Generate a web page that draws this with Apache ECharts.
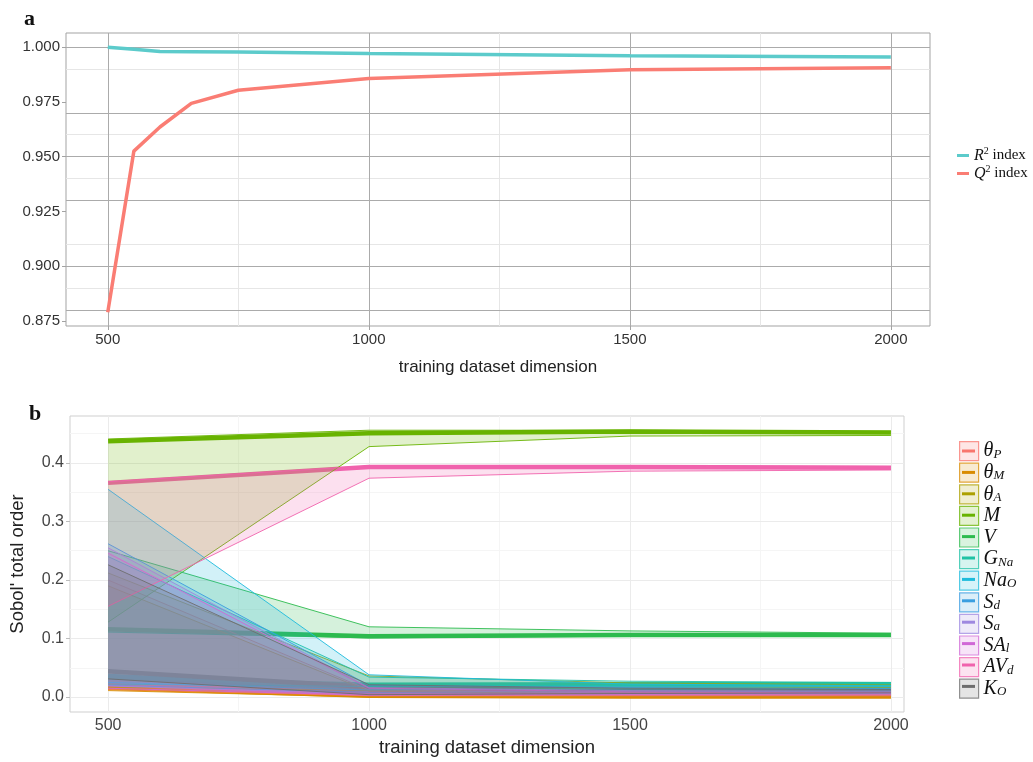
<!DOCTYPE html>
<html>
<head>
<meta charset="utf-8">
<script src="https://cdn.jsdelivr.net/npm/echarts@6/dist/echarts.min.js"></script>
<style>
  html, body { margin: 0; padding: 0; background: #ffffff; }
  #chart { width: 1033px; height: 762px; }
</style>
</head>
<body>
<div id="chart"></div>
<script>
// ---- Panel a: R² / Q² indices against training set size ----
const sizesA = [500, 550, 600, 660, 750, 1000, 1500, 2000];
const r2Index = [0.9999, 0.9990, 0.9980, 0.9979, 0.9977, 0.9970, 0.9960, 0.9955];
const q2Index = [0.8790, 0.9525, 0.9635, 0.9743, 0.9803, 0.9856, 0.9896, 0.9906];

// ---- Panel b: Sobol' total-order indices (mean line + min/max band) ----
const sizesB = [500, 1000, 1500, 2000];
const paramNames = ['θP', 'θM', 'θA', 'M', 'V', 'GNa', 'NaO', 'Sd', 'Sa', 'SAl', 'AVd', 'KO'];
const paramMain  = ['θ', 'θ', 'θ', 'M', 'V', 'G', 'Na', 'S', 'S', 'SA', 'AV', 'K'];
const paramSub   = ['P', 'M', 'A', '', '', 'Na', 'O', 'd', 'a', 'l', 'd', 'O'];
const paramColors = ['#F8766D', '#D98B00', '#ACA000', '#68B300', '#2DBB4E', '#1FC2A5',
                     '#1EBBDC', '#3A9EE0', '#9E88E0', '#D068D6', '#F063AD', '#6E6E6E'];

const sobolMean = [
  [0.018, 0.004, 0.003, 0.003],
  [0.016, 0.002, 0.001, 0.001],
  [0.024, 0.015, 0.017, 0.018],
  [0.437, 0.451, 0.454, 0.452],
  [0.116, 0.104, 0.106, 0.106],
  [0.032, 0.021, 0.022, 0.022],
  [0.036, 0.016, 0.016, 0.016],
  [0.028, 0.011, 0.011, 0.011],
  [0.026, 0.007, 0.007, 0.007],
  [0.022, 0.005, 0.005, 0.005],
  [0.366, 0.393, 0.393, 0.392],
  [0.044, 0.017, 0.011, 0.010]
];
const sobolLower = [
  [0.013, 0.002, 0.002, 0.002],
  [0.011, 0.000, 0.000, 0.000],
  [0.017, 0.011, 0.015, 0.016],
  [0.128, 0.428, 0.446, 0.447],
  [0.111, 0.101, 0.104, 0.104],
  [0.022, 0.018, 0.020, 0.020],
  [0.025, 0.012, 0.014, 0.014],
  [0.020, 0.008, 0.009, 0.010],
  [0.019, 0.005, 0.005, 0.006],
  [0.015, 0.003, 0.004, 0.004],
  [0.155, 0.374, 0.386, 0.388],
  [0.031, 0.004, 0.006, 0.007]
];
const sobolUpper = [
  [0.200, 0.012, 0.008, 0.007],
  [0.190, 0.010, 0.005, 0.004],
  [0.212, 0.036, 0.024, 0.021],
  [0.441, 0.456, 0.456, 0.454],
  [0.250, 0.120, 0.113, 0.109],
  [0.240, 0.034, 0.027, 0.025],
  [0.355, 0.038, 0.022, 0.019],
  [0.262, 0.020, 0.016, 0.014],
  [0.255, 0.016, 0.011, 0.010],
  [0.246, 0.015, 0.009, 0.008],
  [0.368, 0.395, 0.395, 0.394],
  [0.226, 0.021, 0.015, 0.013]
];

// ---- Tick positions ----
const xTicks  = [500, 1000, 1500, 2000];
const xMinor  = [750, 1250, 1750];
const yTicksA = [0.875, 0.900, 0.925, 0.950, 0.975, 1.000];
const yMinorA = [0.8875, 0.9125, 0.9375, 0.9625, 0.9875];
const yTicksB = [0.0, 0.1, 0.2, 0.3, 0.4];
const yMinorB = [0.05, 0.15, 0.25, 0.35, 0.45];

const sans = 'Liberation Sans';
const serif = 'Liberation Serif';
const teal = '#5CCBCB';
const salmon = '#FA7D74';

function pair(xs, ys) { return xs.map((x, i) => [x, ys[i]]); }
function rgba(hex, a) {
  const n = parseInt(hex.slice(1), 16);
  return 'rgba(' + ((n >> 16) & 255) + ',' + ((n >> 8) & 255) + ',' + (n & 255) + ',' + a + ')';
}

// panel grid lines, kept underneath the data
function gridLines(gi, xs, ys, color) {
  return {
    type: 'line', xAxisIndex: gi, yAxisIndex: gi, data: [], z: 1,
    silent: true, animation: false, legendHoverLink: false,
    markLine: {
      z: 1, silent: true, animation: false, symbol: ['none', 'none'],
      label: { show: false },
      emphasis: { disabled: true },
      lineStyle: { color: color, width: 1, type: 'solid' },
      data: xs.map(v => ({ xAxis: v })).concat(ys.map(v => ({ yAxis: v })))
    }
  };
}

const series = [
  gridLines(0, xMinor, yMinorA, '#E6E6E6'),
  gridLines(0, xTicks, yTicksA, '#ABABAB'),
  gridLines(1, xMinor, yMinorB, '#F5F5F5'),
  gridLines(1, xTicks, yTicksB, '#EBEBEB'),
  {
    name: 'R2', type: 'line', xAxisIndex: 0, yAxisIndex: 0, z: 3,
    data: pair(sizesA, r2Index), symbol: 'none',
    lineStyle: { color: teal, width: 3.5 }, itemStyle: { color: teal }
  },
  {
    name: 'Q2', type: 'line', xAxisIndex: 0, yAxisIndex: 0, z: 3,
    data: pair(sizesA, q2Index), symbol: 'none',
    lineStyle: { color: salmon, width: 3.5 }, itemStyle: { color: salmon }
  }
];

// mean lines first, bands drawn over them
paramNames.forEach((name, i) => {
  const c = paramColors[i];
  series.push({
    name: name, type: 'line', xAxisIndex: 1, yAxisIndex: 1, z: 3,
    data: pair(sizesB, sobolMean[i]), symbol: 'none',
    lineStyle: { color: c, width: 4.5 }, itemStyle: { color: c }
  });
});

// one band per parameter: a single row [x, lower, upper, x, lower, upper, ...]
paramNames.forEach((name, i) => {
  const c = paramColors[i];
  const row = [];
  sizesB.forEach((x, k) => row.push(x, sobolLower[i][k], sobolUpper[i][k]));
  series.push({
    name: name, type: 'custom', xAxisIndex: 1, yAxisIndex: 1, z: 4,
    silent: true, itemStyle: { color: c },
    data: [row],
    renderItem: function (params, api) {
      const up = [], lo = [];
      for (let k = 0; k < sizesB.length; k++) {
        const x = api.value(3 * k);
        lo.push(api.coord([x, api.value(3 * k + 1)]));
        up.push(api.coord([x, api.value(3 * k + 2)]));
      }
      return {
        type: 'group',
        children: [
          { type: 'polygon', shape: { points: up.concat(lo.slice().reverse()) },
            style: { fill: rgba(c, 0.2), stroke: null } },
          { type: 'polyline', shape: { points: up }, style: { stroke: c, lineWidth: 0.9, fill: null } },
          { type: 'polyline', shape: { points: lo }, style: { stroke: c, lineWidth: 0.9, fill: null } }
        ]
      };
    }
  });
});

function paramLabel(name) {
  const i = paramNames.indexOf(name);
  return '{m|' + paramMain[i] + '}' + (paramSub[i] ? '{s|' + paramSub[i] + '}' : '');
}
function paramRich(color) {
  return {
    m: { fontFamily: serif, fontStyle: 'italic', fontSize: 20, lineHeight: 19, color: color },
    s: { fontFamily: serif, fontStyle: 'italic', fontSize: 13, lineHeight: 8, verticalAlign: 'bottom', color: color }
  };
}

const indexLabels = { R2: '{m|R}{p|2}{t| index}', Q2: '{m|Q}{p|2}{t| index}' };
const plainNumber = v => String(v);

const option = {
  animation: false,
  backgroundColor: '#ffffff',
  title: [
    { text: 'a', left: 19, top: 3, textStyle: { fontFamily: serif, fontWeight: 'bold', fontSize: 22, color: '#111' } },
    { text: 'b', left: 24, top: 398, textStyle: { fontFamily: serif, fontWeight: 'bold', fontSize: 22, color: '#111' } }
  ],
  grid: [
    { left: 66, top: 33, width: 864, height: 293, show: true, borderColor: '#A3A3A3', borderWidth: 1, backgroundColor: 'transparent' },
    { left: 70, top: 416, width: 834, height: 296, show: true, borderColor: '#CFCFCF', borderWidth: 1, backgroundColor: 'transparent' }
  ],
  xAxis: [
    {
      gridIndex: 0, type: 'value', min: 420, max: 2075,
      axisLine: { show: false },
      axisTick: { show: true, customValues: xTicks, length: 4, lineStyle: { color: '#A3A3A3' } },
      axisLabel: { customValues: xTicks, fontFamily: sans, fontSize: 15, color: '#333', margin: 6, formatter: plainNumber },
      splitLine: { show: false },
      name: 'training dataset dimension', nameLocation: 'middle', nameGap: 33,
      nameTextStyle: { fontFamily: sans, fontSize: 17, color: '#222' }
    },
    {
      gridIndex: 1, type: 'value', min: 427, max: 2025,
      axisLine: { show: false },
      axisTick: { show: true, customValues: xTicks, length: 4, lineStyle: { color: '#BDBDBD' } },
      axisLabel: { customValues: xTicks, fontFamily: sans, fontSize: 16, color: '#444', margin: 6, formatter: plainNumber },
      splitLine: { show: false },
      name: 'training dataset dimension', nameLocation: 'middle', nameGap: 26,
      nameTextStyle: { fontFamily: sans, fontSize: 18.5, color: '#222' }
    }
  ],
  yAxis: [
    {
      gridIndex: 0, type: 'value', min: 0.8727, max: 1.0064,
      axisLine: { show: false },
      axisTick: { show: true, customValues: yTicksA, length: 4, lineStyle: { color: '#A3A3A3' } },
      axisLabel: { customValues: yTicksA, fontFamily: sans, fontSize: 15, color: '#333', margin: 6,
                   formatter: v => v.toFixed(3) },
      splitLine: { show: false }
    },
    {
      gridIndex: 1, type: 'value', min: -0.0256, max: 0.4803,
      axisLine: { show: false },
      axisTick: { show: true, customValues: yTicksB, length: 4, lineStyle: { color: '#BDBDBD' } },
      axisLabel: { customValues: yTicksB, fontFamily: sans, fontSize: 16, color: '#444', margin: 6,
                   formatter: v => v.toFixed(1) },
      splitLine: { show: false },
      name: "Sobol' total order", nameLocation: 'middle', nameGap: 43, nameRotate: 90,
      nameTextStyle: { fontFamily: sans, fontSize: 18.5, color: '#222' }
    }
  ],
  legend: [
    {
      orient: 'vertical', left: 952, top: 141, itemWidth: 12, itemHeight: 3, itemGap: 0.5,
      selectedMode: false,
      data: [
        { name: 'R2', icon: 'rect', itemStyle: { color: teal, borderWidth: 0 } },
        { name: 'Q2', icon: 'rect', itemStyle: { color: salmon, borderWidth: 0 } }
      ],
      formatter: n => indexLabels[n],
      textStyle: {
        color: '#111',
        rich: {
          m: { fontFamily: serif, fontStyle: 'italic', fontSize: 16, lineHeight: 19, color: '#111' },
          p: { fontFamily: serif, fontSize: 10, lineHeight: 10, verticalAlign: 'top', color: '#111' },
          t: { fontFamily: serif, fontSize: 15, lineHeight: 19, color: '#111' }
        }
      }
    },
    {
      orient: 'vertical', left: 954, top: 436, itemWidth: 19, itemHeight: 19, itemGap: 1.4,
      selectedMode: false,
      data: paramNames.map((n, i) => ({
        name: n, icon: 'rect',
        itemStyle: { color: rgba(paramColors[i], 0.18), borderColor: rgba(paramColors[i], 0.75), borderWidth: 1.2 }
      })),
      formatter: paramLabel,
      textStyle: { color: '#111', rich: paramRich('#111') }
    },
    {
      orient: 'vertical', left: 957, top: 436, itemWidth: 13, itemHeight: 3, itemGap: 1.4,
      selectedMode: false,
      data: paramNames.map((n, i) => ({
        name: n, icon: 'rect', itemStyle: { color: paramColors[i], borderWidth: 0 }
      })),
      formatter: paramLabel,
      textStyle: { color: 'rgba(0,0,0,0)', rich: paramRich('rgba(0,0,0,0)') }
    }
  ],
  series: series
};

const chart = echarts.init(document.getElementById('chart'), null, { renderer: 'canvas' });
chart.setOption(option);
</script>
</body>
</html>
